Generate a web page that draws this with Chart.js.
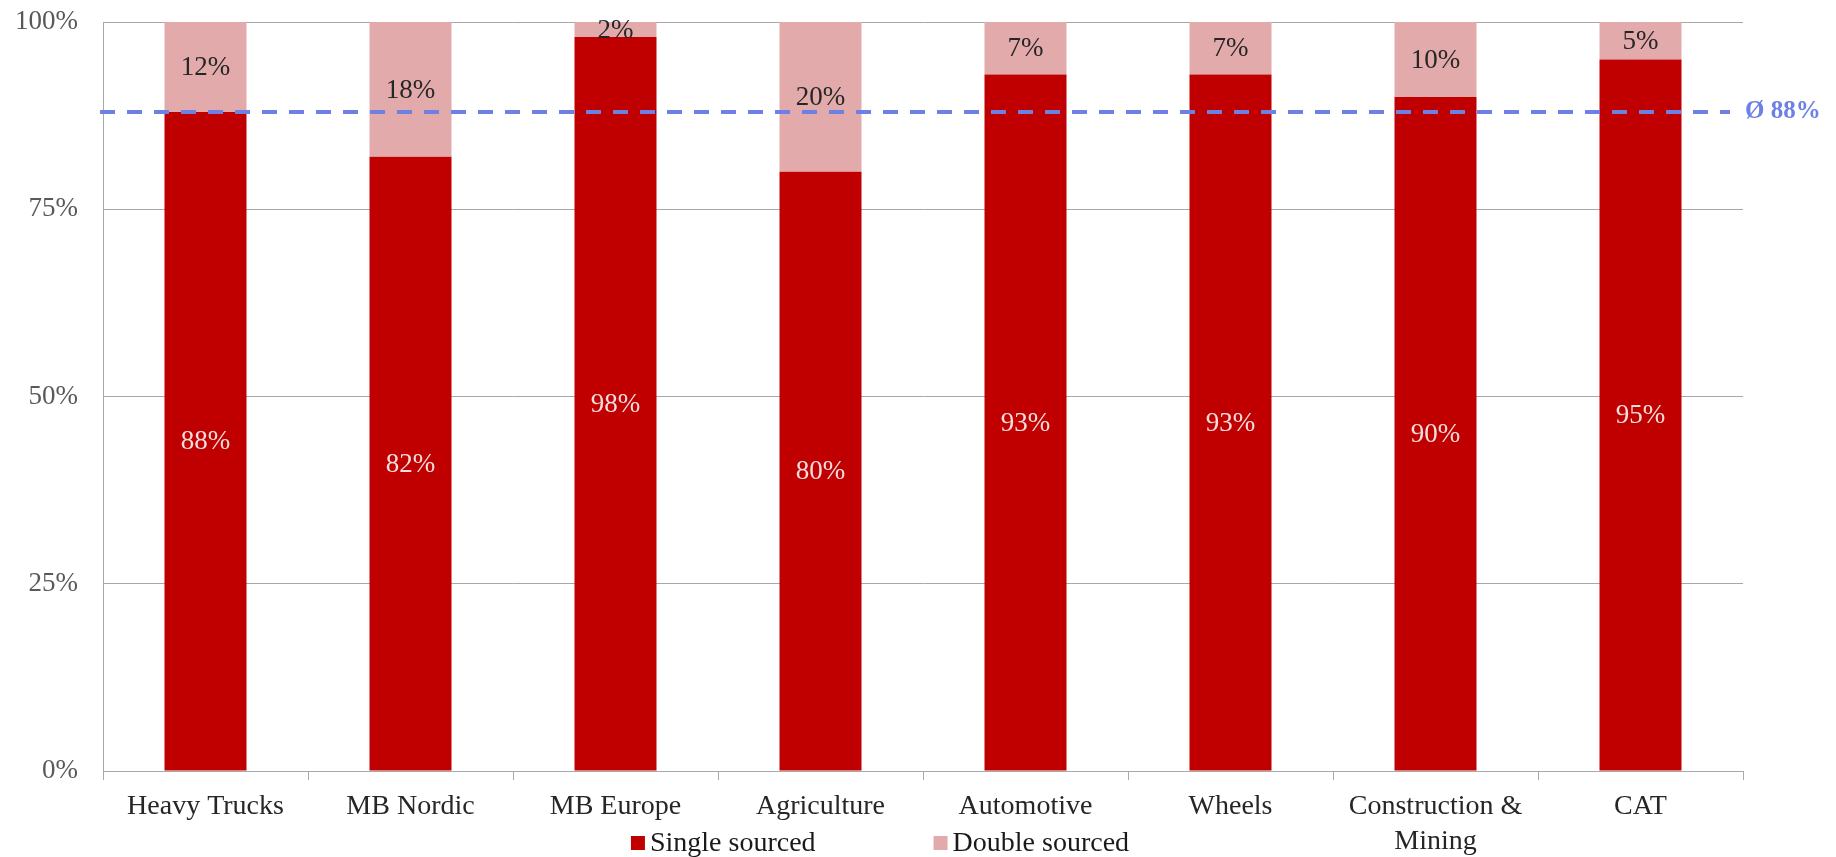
<!DOCTYPE html>
<html>
<head>
<meta charset="utf-8">
<script src="https://cdn.jsdelivr.net/npm/chart.js@4.4.1/dist/chart.umd.min.js"></script>
<style>
  html, body { margin: 0; padding: 0; background: #fff; }
  #wrap { width: 1836px; height: 857px; position: relative; }
</style>
</head>
<body>
<div id="wrap"><canvas id="chart"></canvas></div>
<script>
// Share of parts by sourcing type per business segment
const categories = ['Heavy Trucks', 'MB Nordic', 'MB Europe', 'Agriculture', 'Automotive', 'Wheels', ['Construction &', 'Mining'], 'CAT'];
const singleSourced = [88, 82, 98, 80, 93, 93, 90, 95];
const doubleSourced = [12, 18, 2, 20, 7, 7, 10, 5];
const averageSingle = 88;
const averageLabel = 'Ø 88%';
const yTickValues = [0, 25, 50, 75, 100];

const FONT = '"Liberation Serif", "DejaVu Serif", serif';
const RED = '#C00000';
const PINK = '#E3AAAB';
const AVG_BLUE = '#6E80E4';
const GRID = '#A8A8A8';

// Dashed average line with its label at the right end
const averageLine = {
  id: 'averageLine',
  afterDatasetsDraw(chart) {
    const { ctx, chartArea, scales } = chart;
    const y = scales.y.getPixelForValue(averageSingle);
    ctx.save();
    ctx.strokeStyle = AVG_BLUE;
    ctx.lineWidth = 4;
    ctx.setLineDash([15, 12]);
    ctx.beginPath();
    ctx.moveTo(chartArea.left - 3, y);
    ctx.lineTo(chartArea.right - 13, y);
    ctx.stroke();
    ctx.setLineDash([]);
    ctx.fillStyle = AVG_BLUE;
    ctx.font = 'bold 25px ' + FONT;
    ctx.textAlign = 'left';
    ctx.textBaseline = 'middle';
    ctx.fillText(averageLabel, chartArea.right + 2, y);
    ctx.restore();
  }
};

// Value labels centred inside each bar segment
const segmentLabels = {
  id: 'segmentLabels',
  afterDatasetsDraw(chart) {
    const { ctx } = chart;
    ctx.save();
    ctx.font = '27px ' + FONT;
    ctx.textAlign = 'center';
    ctx.textBaseline = 'middle';
    chart.data.datasets.forEach((ds, di) => {
      const meta = chart.getDatasetMeta(di);
      ctx.fillStyle = ds.labelColor;
      meta.data.forEach((bar, i) => {
        const p = bar.getProps(['x', 'y', 'base'], true);
        ctx.fillText(ds.data[i] + '%', p.x, (p.y + p.base) / 2 + 1);
      });
    });
    ctx.restore();
  }
};

// Legend row under the axis labels
const bottomLegend = {
  id: 'bottomLegend',
  afterDraw(chart) {
    const { ctx } = chart;
    const box = 14, gapText = 5, gapItem = 118;
    ctx.save();
    ctx.font = '28px ' + FONT;
    ctx.textBaseline = 'middle';
    ctx.textAlign = 'left';
    const items = chart.data.datasets.map(ds => ({ text: ds.label, color: ds.backgroundColor, w: ctx.measureText(ds.label).width }));
    const total = items.reduce((s, it) => s + box + gapText + it.w, 0) + gapItem * (items.length - 1);
    let x = 880 - total / 2;
    const y = 843;
    items.forEach(it => {
      ctx.fillStyle = it.color;
      ctx.fillRect(x, y - box / 2, box, box);
      ctx.fillStyle = '#1a1a1a';
      ctx.fillText(it.text, x + box + gapText, y + 1);
      x += box + gapText + it.w + gapItem;
    });
    ctx.restore();
  }
};

new Chart(document.getElementById('chart'), {
  type: 'bar',
  data: {
    labels: categories,
    datasets: [
      { label: 'Single sourced', data: singleSourced, backgroundColor: RED, labelColor: '#F3DEDE',
        barPercentage: 0.4, categoryPercentage: 1.0 },
      { label: 'Double sourced', data: doubleSourced, backgroundColor: PINK, labelColor: '#262626',
        barPercentage: 0.4, categoryPercentage: 1.0 }
    ]
  },
  options: {
    responsive: true,
    maintainAspectRatio: false,
    animation: false,
    layout: { padding: { top: 22, right: 93, left: 0, bottom: 0 } },
    plugins: {
      legend: { display: false },
      tooltip: { enabled: false }
    },
    scales: {
      x: {
        stacked: true,
        afterFit(scale) { scale.height = 86; },
        grid: { display: true, drawOnChartArea: false, drawTicks: true, tickLength: 9, offset: true, color: GRID },
        border: { display: true, color: GRID, width: 1 },
        ticks: {
          autoSkip: false, maxRotation: 0, minRotation: 0, padding: 9,
          color: '#262626', font: { family: FONT, size: 28, lineHeight: 1.25 }
        }
      },
      y: {
        stacked: true,
        min: 0, max: 100,
        afterFit(scale) {
          scale.width = 103;
          scale.paddingTop = 0;
          scale.paddingBottom = 0;
        },
        afterBuildTicks(scale) { scale.ticks = yTickValues.map(v => ({ value: v })); },
        grid: { color: GRID, drawTicks: false, lineWidth: 1 },
        border: { display: true, color: GRID, width: 1 },
        ticks: {
          padding: 25, color: '#595959',
          font: { family: FONT, size: 27 },
          callback: v => v + '%'
        }
      }
    }
  },
  plugins: [averageLine, segmentLabels, bottomLegend]
});
</script>
</body>
</html>
